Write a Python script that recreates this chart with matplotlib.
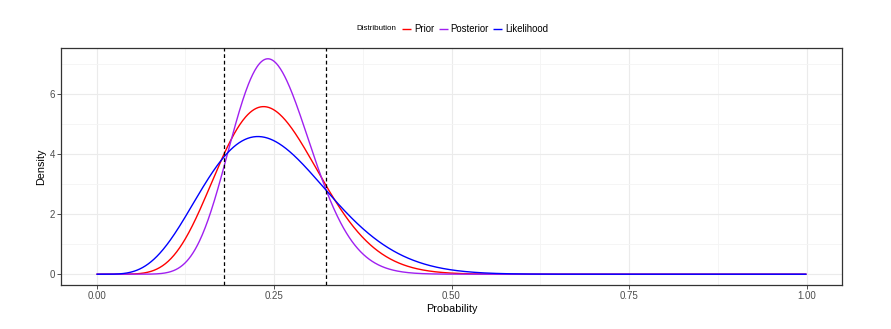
import math
import numpy as np
import matplotlib
matplotlib.use("Agg")
import matplotlib.pyplot as plt
from matplotlib.ticker import MultipleLocator

plt.rcParams["font.family"] = ["Liberation Sans", "DejaVu Sans"]

# Beta distribution parameters for each curve
distributions = ["Prior", "Posterior", "Likelihood"]
alpha = [9, 15, 6]
beta = [27, 45, 18]
colors = ["#FF0000", "#A020F0", "#0000FF"]

# Interval bounds marked with dashed lines
interval = [0.18, 0.323]

x_ticks = [0.0, 0.25, 0.50, 0.75, 1.0]
x_tick_labels = ["0.00", "0.25", "0.50", "0.75", "1.00"]
y_ticks = [0, 2, 4, 6]
y_tick_labels = ["0", "2", "4", "6"]


def beta_pdf(p, a, b):
    log_norm = math.lgamma(a + b) - math.lgamma(a) - math.lgamma(b)
    with np.errstate(divide="ignore"):
        lp = log_norm + (a - 1) * np.log(p) + (b - 1) * np.log1p(-p)
    return np.nan_to_num(np.exp(lp))


grid = np.linspace(0, 1, 1001)

fig = plt.figure(figsize=(8.91, 3.29), dpi=100)
ax = fig.add_axes([61 / 891, 1 - 285 / 329, (842 - 61) / 891, (285 - 48) / 329])

handles = []
for name, a, b, c in zip(distributions, alpha, beta, colors):
    (ln,) = ax.plot(grid, beta_pdf(grid, a, b), color=c, lw=1.0, label=name,
                    solid_capstyle="butt", zorder=3)
    handles.append(ln)

for v in interval:
    ax.axvline(v, color="black", lw=0.9, dashes=(3.0, 2.2), zorder=4)

ax.margins(x=0.05, y=0.05)

ax.set_xticks(x_ticks)
ax.set_xticklabels(x_tick_labels)
ax.set_yticks(y_ticks)
ax.set_yticklabels(y_tick_labels)
ax.xaxis.set_minor_locator(MultipleLocator(0.125))
ax.yaxis.set_minor_locator(MultipleLocator(1))

ax.grid(which="major", color="#EBEBEB", lw=0.8, zorder=0)
ax.grid(which="minor", color="#F4F4F4", lw=0.6, zorder=0)
ax.set_axisbelow(True)

ax.tick_params(which="major", length=3, width=0.6, color="#333333",
               labelsize=7.0, labelcolor="#4D4D4D", pad=1.5)
ax.tick_params(which="minor", length=0)
for s in ax.spines.values():
    s.set_color("#333333")
    s.set_linewidth(0.9)

ax.set_xlabel("Probability", fontsize=7.8, labelpad=2)
ax.set_ylabel("Density", fontsize=7.8, labelpad=2.5)

leg = fig.legend(handles=handles, labels=distributions, ncol=3, frameon=False,
                 loc="center left", bbox_to_anchor=(402 / 891, 1 - 29 / 329),
                 fontsize=6.9, handlelength=0.95, handletextpad=0.3,
                 columnspacing=0.45, borderaxespad=0, borderpad=0)
fig.text(356 / 891, 1 - 29 / 329, "Distribution", fontsize=5.8,
         ha="left", va="center")

fig.savefig("out.png", dpi=100, facecolor="white")
